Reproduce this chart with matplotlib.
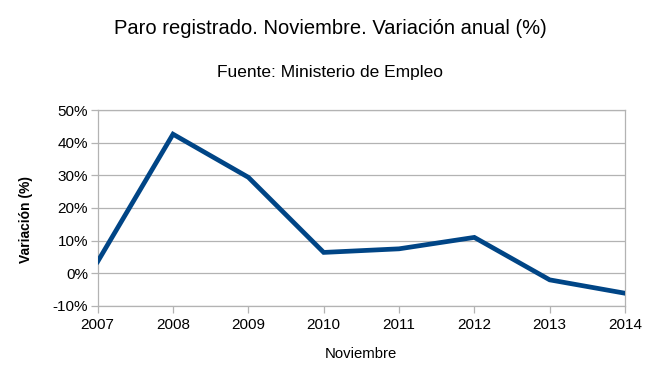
import matplotlib
matplotlib.use("Agg")
import matplotlib.pyplot as plt
from matplotlib.ticker import FuncFormatter

# datos
years = [2007, 2008, 2009, 2010, 2011, 2012, 2013, 2014]
variacion = [3.6, 42.6, 29.4, 6.4, 7.5, 11.0, -2.0, -6.1]
yticks = [-10, 0, 10, 20, 30, 40, 50]

plt.rcParams["font.family"] = ["Liberation Sans", "DejaVu Sans"]

fig = plt.figure(figsize=(6.6, 3.82), dpi=100)
ax = fig.add_axes([0.148, 0.199, 0.799, 0.513])

ax.plot(years, variacion, color="#004586", lw=3.4, solid_joinstyle="miter", zorder=3)

ax.set_xlim(years[0], years[-1])
ax.set_ylim(yticks[0], yticks[-1])
ax.set_xticks(years)
ax.set_yticks(yticks)
ax.yaxis.set_major_formatter(FuncFormatter(lambda v, _: f"{v:.0f}%"))
ax.grid(axis="y", color="#b3b3b3", lw=0.9)
ax.set_axisbelow(True)
for s in ax.spines.values():
    s.set_color("#b3b3b3")
    s.set_linewidth(0.9)
ax.tick_params(colors="#b3b3b3", labelcolor="black", labelsize=11, length=5, width=0.9)
ax.tick_params(axis="y", pad=2)

ax.set_ylabel("Variación (%)", fontsize=10, fontweight="bold")
ax.yaxis.set_label_coords(-0.122, 0.44)
ax.set_xlabel("Noviembre", fontsize=10.7, labelpad=11)

fig.text(0.5, 0.925, "Paro registrado. Noviembre. Variación anual (%)", ha="center", va="center", fontsize=14.5)
fig.text(0.5, 0.81, "Fuente: Ministerio de Empleo", ha="center", va="center", fontsize=12.5)

fig.savefig("out.png", dpi=100)
